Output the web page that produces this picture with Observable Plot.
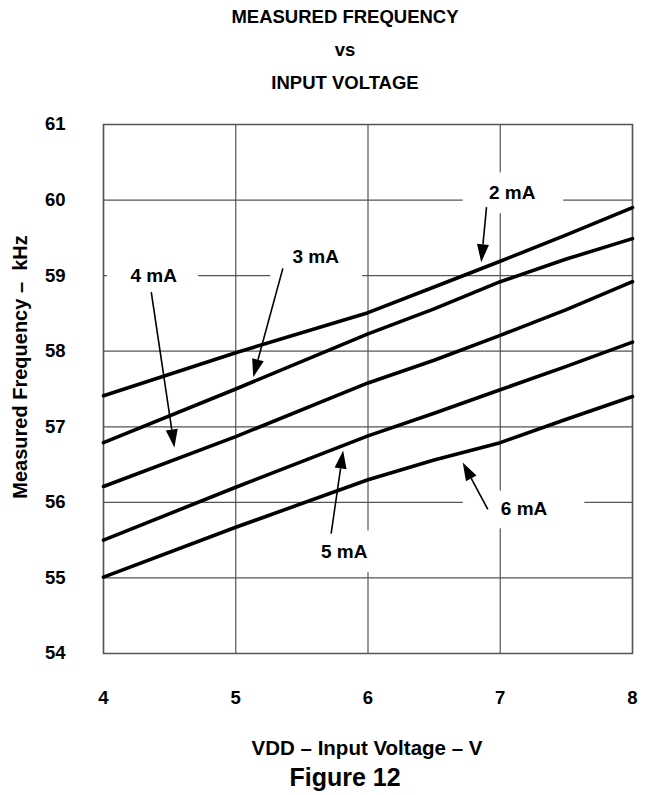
<!DOCTYPE html>
<html>
<head>
<meta charset="utf-8">
<script src="https://cdn.jsdelivr.net/npm/d3@7"></script>
<script src="https://cdn.jsdelivr.net/npm/@observablehq/plot@0.6"></script>
<style>
  html, body { margin: 0; padding: 0; background: white; }
  body { width: 650px; height: 795px; position: relative; overflow: hidden;
         font-family: "Liberation Sans", Arial, Helvetica, sans-serif; font-weight: bold; color: black; }
  #chart { position: absolute; left: 0; top: 0; }
  .t { position: absolute; white-space: nowrap; transform: translateX(-50%); line-height: 1; }
</style>
</head>
<body>
<div id="chart"></div>
<div class="t" style="left:345px; top:8px; font-size:18.5px;">MEASURED FREQUENCY</div>
<div class="t" style="left:345px; top:41px; font-size:18.5px;">vs</div>
<div class="t" style="left:345px; top:74px; font-size:18.5px;">INPUT VOLTAGE</div>
<div class="t" style="left:367px; top:738px; font-size:20.5px;">VDD – Input Voltage – V</div>
<div class="t" style="left:345px; top:765px; font-size:25px;">Figure 12</div>
<script>
// ---- data ----
const voltage = [4, 5, 6, 6.5, 7, 7.5, 8];
const seriesNames = ["2 mA", "3 mA", "4 mA", "5 mA", "6 mA"];
const freq2mA = [57.41, 57.98, 58.51, 58.85, 59.19, 59.54, 59.90];
const freq3mA = [56.79, 57.50, 58.23, 58.56, 58.92, 59.22, 59.49];
const freq4mA = [56.21, 56.87, 57.58, 57.88, 58.21, 58.55, 58.92];
const freq5mA = [55.50, 56.20, 56.88, 57.18, 57.49, 57.80, 58.12];
const freq6mA = [55.01, 55.67, 56.30, 56.56, 56.79, 57.10, 57.40];
const xTicks = [4, 5, 6, 7, 8];
const yTicks = [54, 55, 56, 57, 58, 59, 60, 61];

// annotation labels (data coordinates)
const labelText = ["2 mA", "3 mA", "4 mA", "5 mA", "6 mA"];
const labelX = [7.09, 5.605, 4.38, 5.82, 7.18];
const labelY = [60.09, 59.25, 59.0, 55.34, 55.91];
// white boxes behind labels
const boxX1 = [6.72, 5.265, 4.03, 5.62, 6.72];
const boxX2 = [7.48, 5.96, 4.72, 6.035, 7.64];
const boxY1 = [59.82, 58.80, 58.74, 55.07, 55.65];
const boxY2 = [60.36, 59.46, 59.27, 55.62, 56.15];
// arrows: tail -> tip
const arrowX1 = [6.90, 5.36, 4.365, 5.725, 6.91];
const arrowY1 = [59.90, 59.09, 58.775, 55.58, 55.90];
const arrowX2 = [6.86, 5.136, 4.54, 5.816, 6.72];
const arrowY2 = [59.17, 57.65, 56.72, 56.68, 56.52];

// ---- tables ----
const allFreq = [freq2mA, freq3mA, freq4mA, freq5mA, freq6mA];
const rows = [];
seriesNames.forEach((s, i) => voltage.forEach((v, j) => rows.push({series: s, v, f: allFreq[i][j]})));
const labels = labelText.map((t, i) => ({text: t, x: labelX[i], y: labelY[i]}));
const boxes = labelText.map((t, i) => ({x1: boxX1[i], x2: boxX2[i], y1: boxY1[i], y2: boxY2[i]}));
const arrows = labelText.map((t, i) => ({x1: arrowX1[i], y1: arrowY1[i], x2: arrowX2[i], y2: arrowY2[i]}));

const font = '"Liberation Sans", Arial, Helvetica, sans-serif';

function arrowMark(index, scales) {
  const ns = "http://www.w3.org/2000/svg";
  const g = document.createElementNS(ns, "g");
  for (const a of arrows) {
    const px1 = scales.x(a.x1), py1 = scales.y(a.y1);
    const px2 = scales.x(a.x2), py2 = scales.y(a.y2);
    const dx = px2 - px1, dy = py2 - py1, L = Math.hypot(dx, dy);
    const ux = dx / L, uy = dy / L;
    const hl = 18, hw = 6;
    const bx = px2 - ux * hl, by = py2 - uy * hl;
    const line = document.createElementNS(ns, "line");
    line.setAttribute("x1", px1); line.setAttribute("y1", py1);
    line.setAttribute("x2", bx); line.setAttribute("y2", by);
    line.setAttribute("stroke", "black"); line.setAttribute("stroke-width", 1.6);
    g.appendChild(line);
    const poly = document.createElementNS(ns, "polygon");
    poly.setAttribute("points", `${px2},${py2} ${bx - uy * hw},${by + ux * hw} ${bx + uy * hw},${by - ux * hw}`);
    poly.setAttribute("fill", "black");
    g.appendChild(poly);
  }
  return g;
}

const chart = Plot.plot({
  width: 650,
  height: 720,
  marginTop: 124,
  marginLeft: 103,
  marginRight: 18,
  marginBottom: 67,
  x: {domain: [4, 8]},
  y: {domain: [54, 61]},
  style: {fontFamily: font, fontWeight: "bold", fontSize: "18px", color: "black", background: "white", overflow: "visible"},
  marks: [
    Plot.gridX(xTicks, {stroke: "#555", strokeOpacity: 1, strokeWidth: 1.2}),
    Plot.gridY(yTicks, {stroke: "#555", strokeOpacity: 1, strokeWidth: 1.2}),
    Plot.frame({stroke: "#555", strokeWidth: 1.5}),
    Plot.rect(boxes, {x1: "x1", x2: "x2", y1: "y1", y2: "y2", fill: "white"}),
    Plot.line(rows, {x: "v", y: "f", z: "series", stroke: "black", strokeWidth: 3.6, strokeLinejoin: "round"}),
    Plot.text(labels, {x: "x", y: "y", text: "text", fontSize: 19, fontWeight: "bold", fill: "black"}),
    arrowMark,
    Plot.axisX(xTicks, {tickSize: 0, tickPadding: 37, fontSize: 18.5, fontWeight: "bold", label: null, tickFormat: d3.format("d")}),
    Plot.axisY(yTicks, {tickSize: 0, tickPadding: 38, fontSize: 18.5, fontWeight: "bold", label: null, tickFormat: d3.format("d")}),
    Plot.text(["Measured Frequency –  kHz"], {frameAnchor: "left", textAnchor: "middle", dx: -83, dy: -22, rotate: -90, fontSize: 20, fontWeight: "bold", fill: "black"})
  ]
});
document.getElementById("chart").appendChild(chart);
</script>
</body>
</html>
